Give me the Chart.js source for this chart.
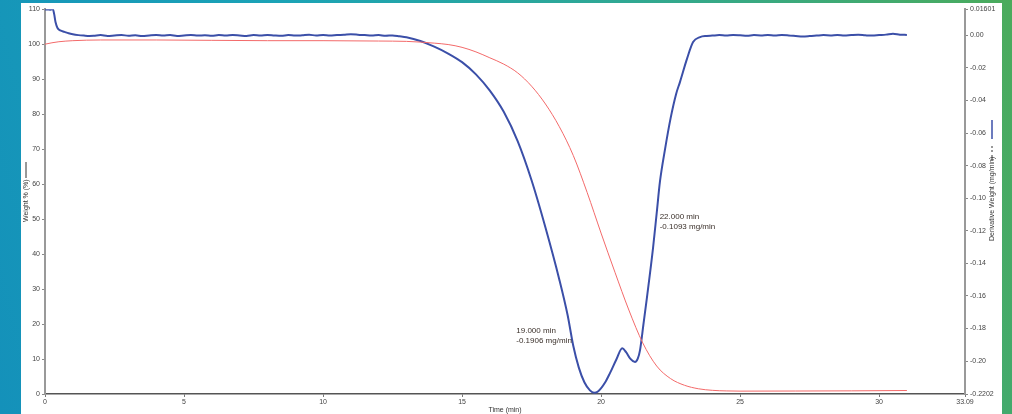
<!DOCTYPE html>
<html>
<head>
<meta charset="utf-8">
<script src="https://cdn.jsdelivr.net/npm/chart.js@4/dist/chart.umd.min.js"></script>
<style>
  html, body { margin: 0; padding: 0; }
  body {
    width: 1012px; height: 414px; overflow: hidden;
    background: linear-gradient(75deg, #1491ba 0%, #1ba3b6 35%, #2fa894 65%, #4bab5c 100%);
  }
  .panel { position: absolute; left: 21px; top: 3px; width: 981px; height: 411px; background: #fff; }
</style>
</head>
<body>
<div class="panel"><canvas id="myChart"></canvas></div>
<script>
// Time axis ticks (min)
const timeTicks = [0, 5, 10, 15, 20, 25, 30, 33.09];
const weightTicks = [0, 10, 20, 30, 40, 50, 60, 70, 80, 90, 100, 110];
const derivTicks = [0.01601, 0, -0.02, -0.04, -0.06, -0.08, -0.10, -0.12, -0.14, -0.16, -0.18, -0.20, -0.2202];

// Weight % (red)
const weightTime = [0, 0.25, 0.5, 1, 2, 4, 6, 8, 10, 12, 13, 13.5, 14, 14.5, 15, 15.5, 16, 16.5, 17, 17.5,
  18, 18.5, 19, 19.5, 20, 20.5, 21, 21.5, 22, 22.5, 23, 23.5, 24, 24.5, 25, 27, 29, 31];
const weightPct = [100.0, 100.4, 100.7, 101.0, 101.2, 101.2, 101.1, 101.0, 101.0, 100.9, 100.8, 100.6, 100.3, 99.9,
  99.1, 97.8, 96.1, 94.3, 91.8, 88.0, 82.9, 76.4, 68.2, 57.6, 46.0, 34.8, 24.0, 14.6, 8.0, 4.4, 2.5, 1.5, 1.05,
  0.88, 0.82, 0.85, 0.9, 1.0];

// Derivative weight (blue)
const derivTime = [0, 0.1, 0.2, 0.28, 0.33, 0.38, 0.45, 0.55, 0.7, 0.85, 1.0, 1.2, 1.4, 1.6,
  1.75, 2.0, 2.25, 2.5, 2.75, 3.0, 3.25, 3.5, 3.75, 4.0, 4.25, 4.5, 4.75, 5.0, 5.25, 5.5, 5.75, 6.0, 6.25, 6.5, 6.75,
  7.0, 7.25, 7.5, 7.75, 8.0, 8.25, 8.5, 8.75, 9.0, 9.25, 9.5, 9.75, 10.0, 10.25, 10.5, 10.75, 11.0, 11.25, 11.5, 11.75,
  12.0, 12.25, 12.5, 12.75,
  13.0, 13.5, 14.0, 14.5, 15.0, 15.5, 16.0, 16.5, 17.0, 17.5, 18.0, 18.5, 18.8, 19.0, 19.2, 19.4, 19.6, 19.75, 19.9,
  20.15, 20.32, 20.55, 20.76, 20.9, 21.05, 21.22, 21.32, 21.4, 21.52, 21.65, 21.87, 22.0, 22.12, 22.3, 22.5, 22.7,
  22.84, 23.09, 23.31, 23.56, 23.8, 24.0,
  24.25, 24.5, 24.75, 25.0, 25.25, 25.5, 25.75, 26.0, 26.25, 26.5, 26.75, 27.0, 27.25, 27.5, 27.75, 28.0, 28.25, 28.5,
  28.75, 29.0, 29.25, 29.5, 29.75, 30.0, 30.25, 30.5, 30.75, 31.0];
const derivWeight = [0.0158, 0.0159, 0.0157, 0.0161, 0.0130, 0.0080, 0.0045, 0.0030, 0.0021, 0.0012, 0.0006, 0.0001, -0.0002, -0.0004,
  -0.0003, 0.0001, -0.0004, -0.0001, 0.0002, -0.0003, 0.0000, -0.0005, -0.0001, 0.0002, -0.0002, 0.0001, -0.0004, -0.0001,
  0.0002, -0.0002, 0.0000, -0.0003, 0.0001, -0.0002, 0.0002, -0.0001, -0.0004, 0.0001, -0.0002, 0.0002, -0.0001, -0.0003,
  0.0001, -0.0002, 0.0000, 0.0003, -0.0001, 0.0002, -0.0002, 0.0001, 0.0003, 0.0006, 0.0004, 0.0001, -0.0002,
  0.0001, -0.0003, -0.0001, -0.0006,
  -0.0012, -0.0035, -0.0070, -0.0112, -0.0165, -0.0240, -0.0340, -0.0470, -0.0650, -0.0890, -0.1180, -0.1500,
  -0.1720, -0.1906, -0.2040, -0.2130, -0.2180, -0.2195, -0.2185,
  -0.2130, -0.2074, -0.1990, -0.1921, -0.1945, -0.1985, -0.2005, -0.1985, -0.1934, -0.1780, -0.1610, -0.1305, -0.1093,
  -0.0896, -0.0700, -0.0510, -0.0360, -0.0286, -0.0145, -0.0042, -0.0011, -0.0004, -0.0002,
  0.0001, -0.0002, 0.0002, 0.0000, -0.0003, 0.0001, -0.0001, 0.0002, -0.0002, 0.0001, -0.0001, -0.0004, -0.0007, -0.0005,
  -0.0002, 0.0001, -0.0001, 0.0002, -0.0002, 0.0001, 0.0003, 0.0000, -0.0002, 0.0001, 0.0004, 0.0010, 0.0004, 0.0002];

// Annotated points
const marks = [
  { time: 19.0, value: -0.1906 },
  { time: 22.0, value: -0.1093 }
];

const FONT = "'Liberation Sans', Arial, sans-serif";

const extras = {
  id: "extras",
  afterDraw(chart) {
    const ctx = chart.ctx;
    const xs = chart.scales.x, yr = chart.scales.yR;
    ctx.save();
    ctx.fillStyle = "#333";
    ctx.font = "7px " + FONT;
    ctx.textAlign = "center";
    ctx.textBaseline = "middle";
    ctx.fillText("Time (min)", 484, 407);

    // left title
    ctx.save();
    ctx.translate(5, 197);
    ctx.rotate(-Math.PI / 2);
    ctx.textAlign = "left";
    ctx.fillText("Weight % (%)", -22, 0);
    ctx.strokeStyle = "#333";
    ctx.lineWidth = 1;
    ctx.beginPath(); ctx.moveTo(22, 0); ctx.lineTo(38, 0); ctx.stroke();
    ctx.restore();

    // right title
    ctx.save();
    ctx.translate(971, 200);
    ctx.rotate(-Math.PI / 2);
    ctx.textAlign = "left";
    ctx.fillText("Derivative Weight (mg/min)", -38, 0);
    ctx.strokeStyle = "#333";
    ctx.lineWidth = 1;
    ctx.beginPath(); ctx.moveTo(42, 0); ctx.lineTo(48, 0); ctx.stroke();
    ctx.beginPath(); ctx.moveTo(51, 0); ctx.lineTo(53, 0); ctx.moveTo(55, 0); ctx.lineTo(57, 0); ctx.stroke();
    ctx.strokeStyle = "#3b4fa8";
    ctx.lineWidth = 1.5;
    ctx.beginPath(); ctx.moveTo(64, 0); ctx.lineTo(83, 0); ctx.stroke();
    ctx.restore();

    // point annotations
    ctx.fillStyle = "#3a302a";
    ctx.font = "8px " + FONT;
    ctx.textAlign = "left";
    const a = marks[0], b = marks[1];
    let px = xs.getPixelForValue(a.time), py = yr.getPixelForValue(a.value);
    ctx.fillText(a.time.toFixed(3) + " min", px - 57, py - 15);
    ctx.fillText(a.value.toFixed(4) + " mg/min", px - 57, py - 5);
    px = xs.getPixelForValue(b.time); py = yr.getPixelForValue(b.value);
    ctx.fillText(b.time.toFixed(3) + " min", px + 3, py + 3);
    ctx.fillText(b.value.toFixed(4) + " mg/min", px + 3, py + 13);
    ctx.restore();
  }
};

const tickFont = { family: FONT, size: 7 };

new Chart(document.getElementById("myChart").getContext("2d"), {
  type: "line",
  data: {
    datasets: [
      {
        label: "Weight %",
        data: weightTime.map((t, i) => ({ x: t, y: weightPct[i] })),
        yAxisID: "yL",
        borderColor: "#f36a6a",
        borderWidth: 1,
        pointRadius: 0,
        cubicInterpolationMode: "monotone"
      },
      {
        label: "Derivative Weight",
        data: derivTime.map((t, i) => ({ x: t, y: derivWeight[i] })),
        yAxisID: "yR",
        borderColor: "#3b4fa8",
        borderWidth: 2,
        pointRadius: 0,
        cubicInterpolationMode: "monotone"
      }
    ]
  },
  options: {
    responsive: true,
    maintainAspectRatio: false,
    animation: false,
    layout: { padding: { top: 4, left: 0, right: 0, bottom: 0 } },
    plugins: { legend: { display: false }, tooltip: { enabled: false } },
    scales: {
      x: {
        type: "linear", min: 0, max: 33.09,
        afterBuildTicks: s => { s.ticks = timeTicks.map(v => ({ value: v })); },
        afterFit: s => { s.height = 20; },
        ticks: { font: tickFont, color: "#444", maxRotation: 0, padding: 1,
          callback: v => (v === 33.09 ? "33.09" : String(v)) },
        grid: { drawOnChartArea: false, tickLength: 3, color: "#777" },
        border: { color: "#555", width: 1.5 }
      },
      yL: {
        type: "linear", position: "left", min: 0, max: 110,
        afterBuildTicks: s => { s.ticks = weightTicks.map(v => ({ value: v })); },
        afterFit: s => { s.width = 24; },
        ticks: { font: tickFont, color: "#444", padding: 2 },
        grid: { drawOnChartArea: false, tickLength: 3, color: "#888" },
        border: { color: "#999", width: 2 }
      },
      yR: {
        type: "linear", position: "right", min: -0.2202, max: 0.01601,
        afterBuildTicks: s => { s.ticks = derivTicks.map(v => ({ value: v })); },
        afterFit: s => { s.width = 37; },
        ticks: { font: tickFont, color: "#444", padding: 2,
          callback: v => (v === 0.01601 ? "0.01601" : v === -0.2202 ? "-0.2202" : v.toFixed(2)) },
        grid: { drawOnChartArea: false, tickLength: 3, color: "#888" },
        border: { color: "#999", width: 2 }
      }
    }
  },
  plugins: [extras]
});
</script>
</body>
</html>
